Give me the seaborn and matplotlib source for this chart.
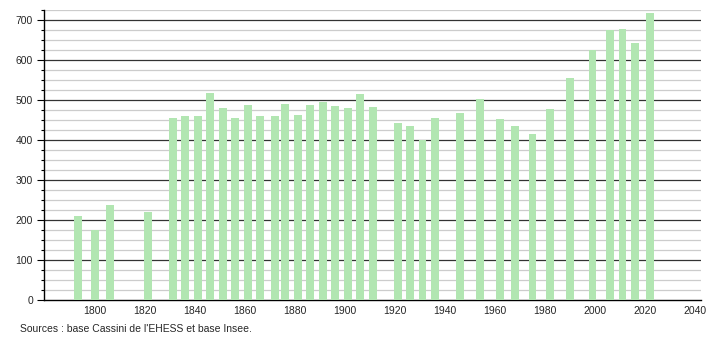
import matplotlib
matplotlib.use("Agg")
import matplotlib.pyplot as plt
from matplotlib.ticker import MultipleLocator
import seaborn as sns
import pandas as pd

years = [1793, 1800, 1806, 1821, 1831, 1836, 1841, 1846, 1851, 1856,
         1861, 1866, 1872, 1876, 1881, 1886, 1891, 1896, 1901, 1906,
         1911, 1921, 1926, 1931, 1936, 1946, 1954, 1962, 1968, 1975,
         1982, 1990, 1999, 2006, 2011, 2016, 2022]
population = [210, 175, 238, 219, 454, 460, 460, 518, 481, 454,
              488, 459, 459, 491, 463, 488, 496, 486, 481, 516,
              483, 443, 436, 400, 456, 468, 503, 453, 436, 416,
              478, 556, 625, 675, 678, 642, 718]
x_ticks = [1800, 1820, 1840, 1860, 1880, 1900, 1920, 1940, 1960, 1980, 2000, 2020, 2040]
y_ticks = [0, 100, 200, 300, 400, 500, 600, 700]
source_text = "Sources : base Cassini de l'EHESS et base Insee."

df = pd.DataFrame({"year": years, "pop": population})

sns.set_style("white")
plt.rcParams["font.family"] = ["Liberation Sans", "DejaVu Sans"]

fig = plt.figure(figsize=(7.1, 3.4), dpi=100)
ax = fig.add_axes([44 / 710, 1 - 300 / 340, (701 - 44) / 710, 290 / 340])

sns.barplot(data=df, x="year", y="pop", native_scale=True, width=0.8,
            color="#b2e6b2", saturation=1, linewidth=0, ax=ax, zorder=3)

ax.set_xlim(1779.6, 2042.4)
ax.set_ylim(0, 725)
ax.set_xticks(x_ticks)
ax.set_xticklabels([str(t) for t in x_ticks])
ax.set_yticks(y_ticks)
ax.yaxis.set_minor_locator(MultipleLocator(25))

ax.grid(False)
for v in range(25, 726, 25):
    if v % 100 == 0:
        ax.axhline(v, color="#333333", linewidth=0.9, zorder=1)
    else:
        ax.axhline(v, color="#cccccc", linewidth=0.9, zorder=1)

for s in ["top", "right"]:
    ax.spines[s].set_visible(False)
for s in ["left", "bottom"]:
    ax.spines[s].set_color("black")
    ax.spines[s].set_linewidth(1.0)

ax.tick_params(axis="y", which="major", length=5, width=0.8, color="black",
               labelsize=7.5, pad=3, left=True)
ax.tick_params(axis="y", which="minor", length=2.5, width=0.8, color="black", left=True)
ax.tick_params(axis="x", which="both", length=0, labelsize=7.5, pad=4)
ax.set_xlabel("")
ax.set_ylabel("")

fig.text(20 / 710, 1 - 329 / 340, source_text, fontsize=7.5, ha="left", va="center")

fig.savefig("out.png", dpi=100)
